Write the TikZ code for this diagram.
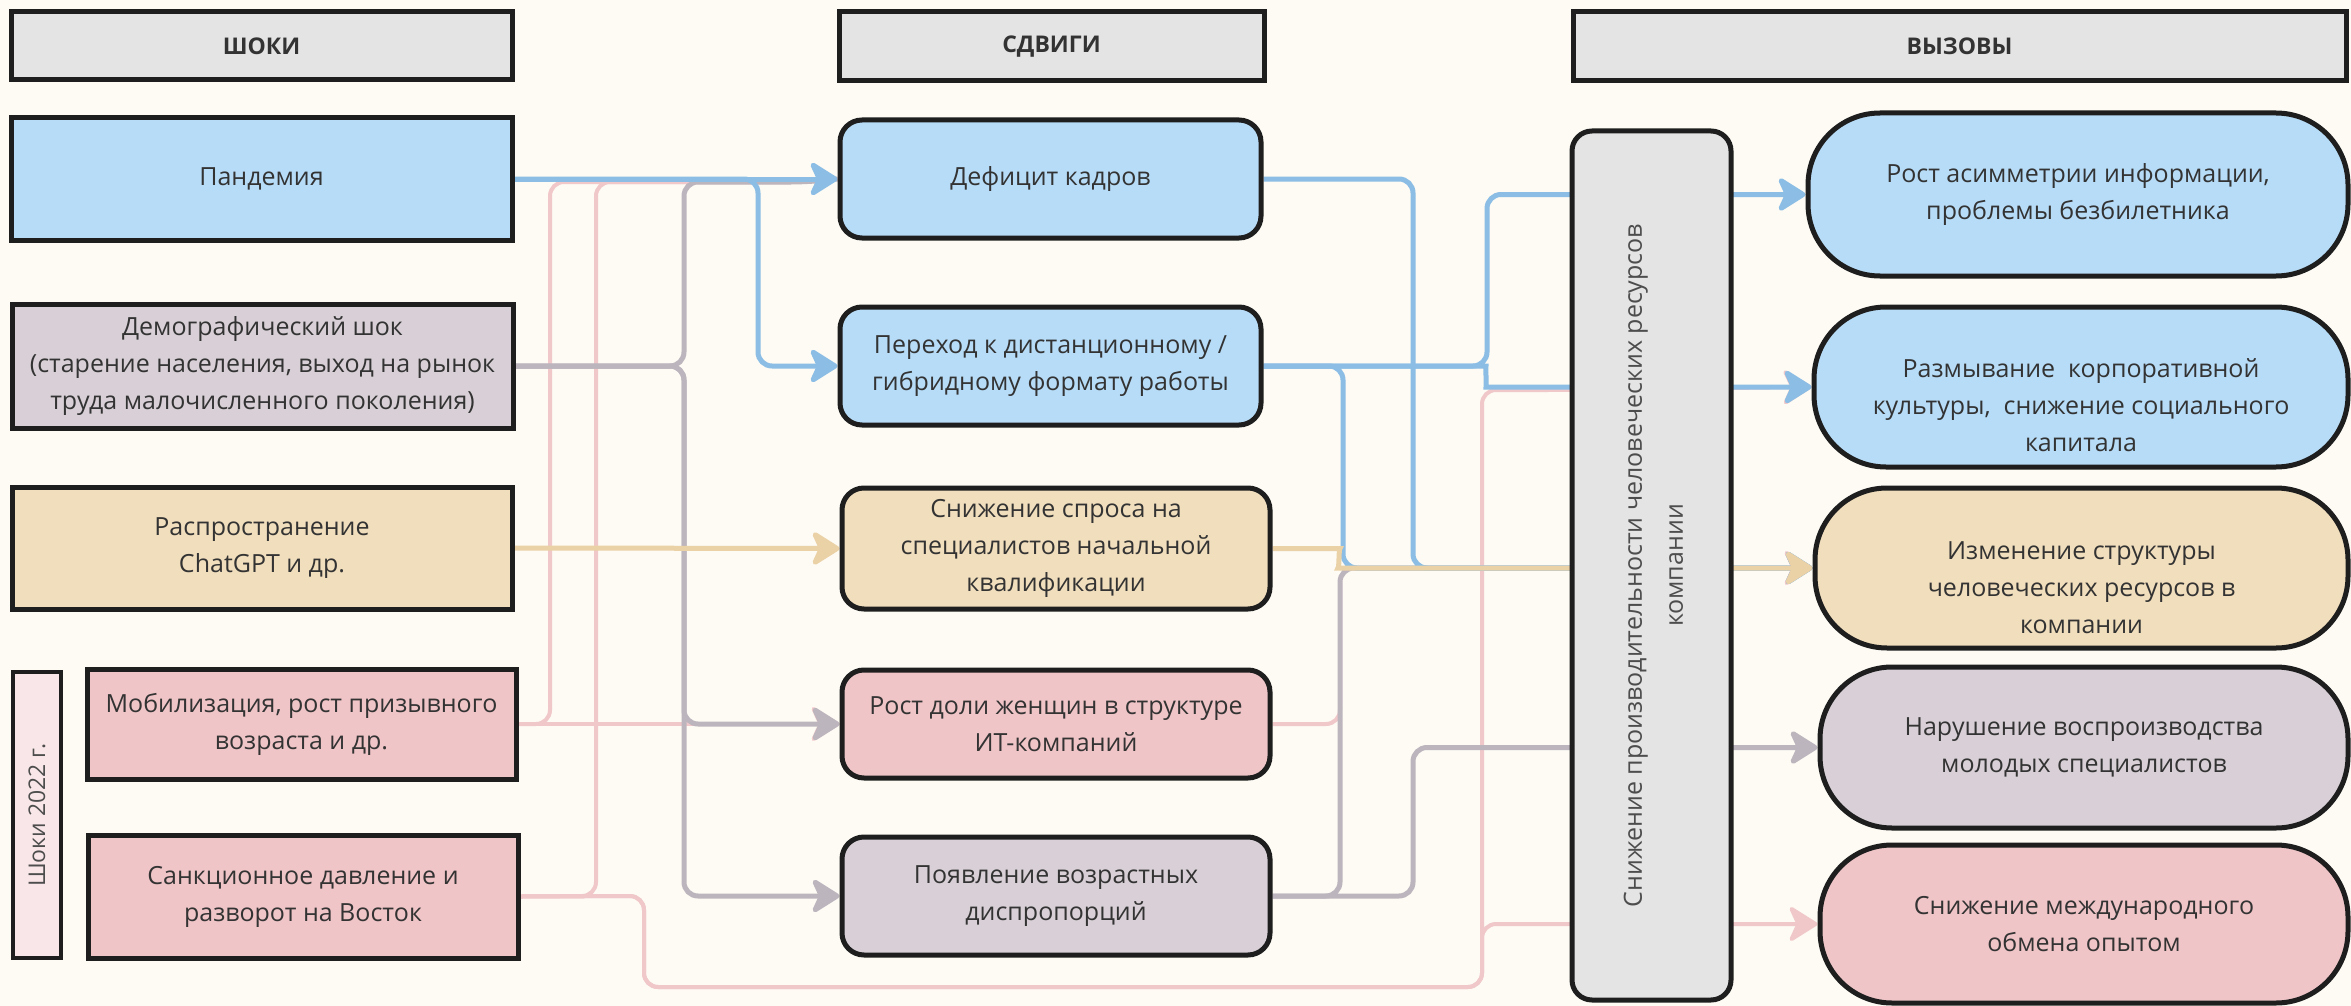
\documentclass[tikz,border=0pt]{standalone}
\usepackage{fontspec}
\setmainfont{Open Sans}
\usetikzlibrary{arrows.meta,calc}
\definecolor{bgc}{HTML}{FDFBF4}
\definecolor{bord}{HTML}{1E1E1E}
\definecolor{txt}{HTML}{333333}
\definecolor{txtb}{HTML}{4D4D4D}
\definecolor{hdrc}{HTML}{E4E4E4}
\definecolor{blf}{HTML}{B7DCF7}
\definecolor{blc}{HTML}{8BBDE5}
\definecolor{gyf}{HTML}{D8D0D6}
\definecolor{gyc}{HTML}{BDB5BD}
\definecolor{tnf}{HTML}{F1DEBD}
\definecolor{tnc}{HTML}{EBD1A6}
\definecolor{pkf}{HTML}{F0C5C8}
\definecolor{pkc}{HTML}{F0C8CA}
\definecolor{shkf}{HTML}{F9E6E8}
\pgfdeclarelayer{bgfill}
\pgfdeclarelayer{lines}
\pgfsetlayers{bgfill,lines,main}
\begin{document}
\begin{tikzpicture}[x=1pt,y=-1pt,
  bx/.style={draw=bord, line width=5pt, inner sep=0pt, align=center,
    font=\fontsize{25}{37}\selectfont, text=txt},
  sz/.style 2 args={minimum width=#1pt, minimum height=#2pt},
  hdr/.style={bx, fill=hdrc, font=\fontsize{23}{28}\selectfont\bfseries},
  rr/.style={bx, rounded corners=22pt},
  pill/.style={bx, rounded corners=72pt},
  plain/.style={inner sep=0pt, align=center, font=\fontsize{25}{37}\selectfont, text=txt},
  ln/.style={line width=5pt, rounded corners=14pt},
  tip/.style={-{Stealth[length=32pt,width=40pt,inset=9pt,round]}},
  bl/.style={ln, draw=blc},
  gy/.style={ln, draw=gyc},
  tn/.style={ln, draw=tnc},
  pk/.style={ln, draw=pkc, line width=4pt}
]
\begin{pgfonlayer}{bgfill}
\fill[bgc] (0,0) rectangle (2351,1006);
\end{pgfonlayer}
\useasboundingbox (0,0) rectangle (2351,1006);

% headers
\node[hdr, sz={501}{68}] (h1) at (261.5,46) {ШОКИ};
\node[hdr, sz={425}{69}] (h2) at (1051.5,46.5) {СДВИГИ};
\node[hdr, sz={773}{69}] (h3) at (1959.5,46.5) {ВЫЗОВЫ};

% shocks
\node[bx, fill=blf, sz={501}{122}] (pand) at (261.5,179) {Пандемия};
\node[bx, fill=gyf, sz={501}{124}] (demo) at (262.5,366) {Демографический шок\\(старение населения, выход на рынок\\труда малочисленного поколения)};
\node[bx, fill=tnf, sz={500}{122}] (chat) at (262,548) {Распространение\\ChatGPT и др.};
\node[bx, fill=pkf, sz={429}{110}] (mob) at (301.5,724) {Мобилизация, рост призывного\\возраста и др.};
\node[bx, fill=pkf, sz={430}{123}] (sanc) at (303,896.5) {Санкционное давление и\\разворот на Восток};
\node[bx, fill=shkf, line width=4.5pt, sz={48}{286}] (shk) at (37,815) {};
\node[rotate=90, inner sep=0pt, font=\fontsize{23}{28}\selectfont, text=txtb] (shkt) at (shk.center) {Шоки 2022 г.};

% shifts
\node[rr, fill=blf, sz={421}{118}] (def) at (1050.5,179) {Дефицит кадров};
\node[rr, fill=blf, sz={421}{118}] (per) at (1050.5,366) {Переход к дистанционному /\\гибридному формату работы};
\node[rr, fill=tnf, sz={428}{121}] (sniz) at (1056,548.5) {Снижение спроса на\\специалистов начальной\\квалификации};
\node[rr, fill=pkf, sz={428}{108}] (rost) at (1056,724) {Рост доли женщин в структуре\\ИТ-компаний};
\node[rr, fill=gyf, sz={428}{118}] (poya) at (1056,896) {Появление возрастных\\диспропорций};

% central bar
\node[bx, fill=hdrc, rounded corners=20pt, sz={159}{869}] (bar) at (1651.5,565.5) {};
\node[rotate=90, inner sep=0pt, align=center, font=\fontsize{25}{41}\selectfont, text=txtb] (bart) at (1653.5,565.5) {Снижение производительности человеческих ресурсов\\компании};

% challenges
\node[pill, fill=blf, sz={540}{163}] (p1) at (2078,194.5) {Рост асимметрии информации,\\проблемы безбилетника};
\node[pill, fill=blf, sz={534}{160}] (p2) at (2081,387) {};
\node[plain] (p2t) at (2081,405) {Размывание~ корпоративной\\культуры,~ снижение социального\\капитала};
\node[pill, fill=tnf, sz={533}{160}] (p3) at (2081.5,568) {};
\node[plain] (p3t) at (2081.5,588) {Изменение структуры\\человеческих ресурсов в\\компании};
\node[pill, fill=gyf, sz={528}{161}] (p4) at (2084,747.5) {Нарушение воспроизводства\\молодых специалистов};
\node[pill, fill=pkf, sz={528}{158}] (p5) at (2084,924) {Снижение международного\\обмена опытом};

\begin{pgfonlayer}{lines}
% pink
\draw[pk] (mob.east) -- (550,724) -- (550,182) -- (805,182) -- (def.west);
\draw[pk] (sanc.east) -- (596,896) -- (596,182) -- (805,182) -- (def.west);
\draw[pk,tip] (mob.east) -- (rost.west);
\draw[pk,tip] (sanc.east) -- (644,896) -- (644,987) -- (1482,987) -- (1482,924) -- (p5.west);
\draw[pk,tip] (sanc.east) -- (644,896) -- (644,987) -- (1482,987) -- (1482,390) -- (1560,390) -- (p2.west);
\draw[pk,tip] (rost.east) -- (1340,724) -- (1340,568) -- (p3.west);
% gray
\draw[gy] (demo.east) -- (684,366) -- (684,182) -- (805,182) -- (def.west);
\draw[gy,tip] (demo.east) -- (684,366) -- (684,724) -- (rost.west);
\draw[gy,tip] (demo.east) -- (684,366) -- (684,896) -- (poya.west);
\draw[gy,tip] (poya.east) -- (1340,896) -- (1340,568) -- (p3.west);
\draw[gy,tip] (poya.east) -- (1413,896) -- (1413,747.5) -- (p4.west);
% blue
\draw[bl,tip] (pand.east) -- (def.west);
\draw[bl,tip] (pand.east) -- (758,179) -- (758,366) -- (per.west);
\draw[bl,tip] (def.east) -- (1413,179) -- (1413,568) -- (p3.west);
\draw[bl,tip] (per.east) -- (1343,366) -- (1343,568) -- (p3.west);
\draw[bl,tip] (per.east) -- (1487,366) -- (1487,194.5) -- (p1.west);
\draw[bl,tip] (per.east) -- (1472,366) to[out=0,in=180] (1500,387) -- (p2.west);
% tan
\draw[tn,tip] (chat.east) -- (sniz.west);
\draw[tn,tip] (sniz.east) -- (1326,548.5) to[out=0,in=180] (1352,568) -- (p3.west);
\end{pgfonlayer}
\end{tikzpicture}
\end{document}
